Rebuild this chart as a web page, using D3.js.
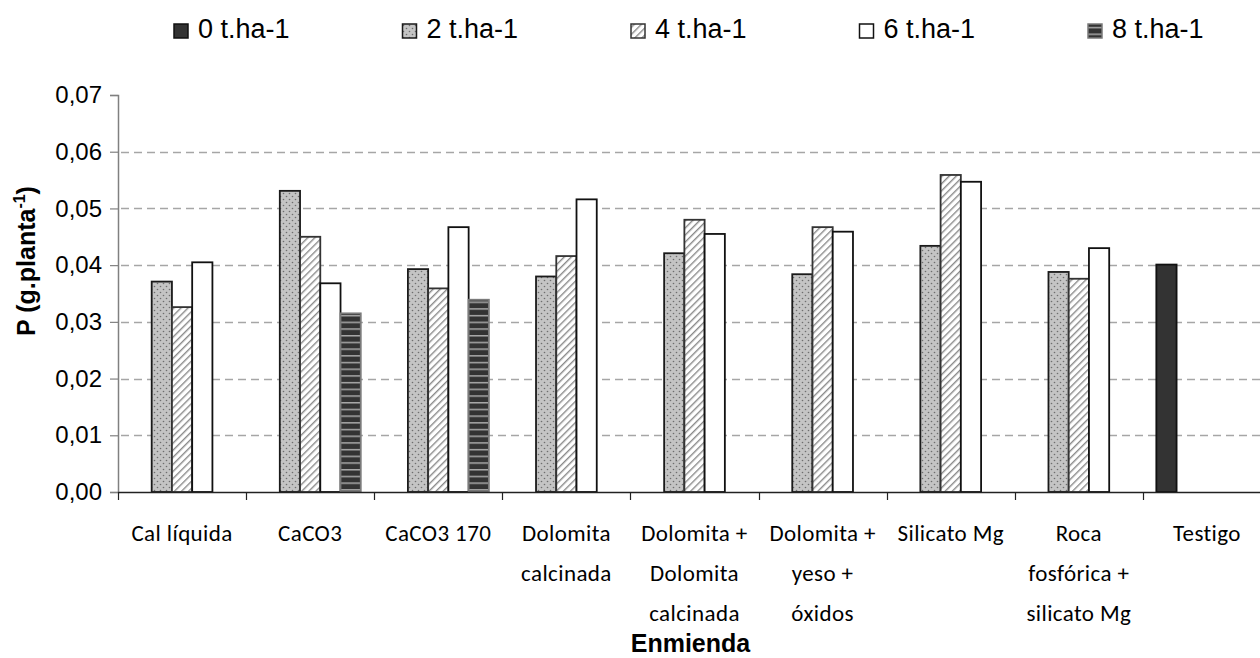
<!DOCTYPE html>
<html>
<head>
<meta charset="utf-8">
<script src="https://cdn.jsdelivr.net/npm/d3@7.9.0/dist/d3.min.js"></script>
<style>
  body { margin: 0; background: #fff; }
  svg { display: block; }
</style>
</head>
<body>
<svg id="chart"></svg>
<script>
// Categories (one entry per x label line)
const categories = ['Cal líquida', 'CaCO3', 'CaCO3 170', 'Dolomita calcinada',
    'Dolomita + Dolomita calcinada', 'Dolomita + yeso + óxidos', 'Silicato Mg',
    'Roca fosfórica + silicato Mg', 'Testigo'];
const categoryLines = [
    ['Cal líquida'], ['CaCO3'], ['CaCO3 170'], ['Dolomita', 'calcinada'],
    ['Dolomita +', 'Dolomita', 'calcinada'], ['Dolomita +', 'yeso +', 'óxidos'],
    ['Silicato Mg'], ['Roca', 'fosfórica +', 'silicato Mg'], ['Testigo']
];

// Series
const seriesNames = ['0 t.ha-1', '2 t.ha-1', '4 t.ha-1', '6 t.ha-1', '8 t.ha-1'];
const dose0 = [null, null, null, null, null, null, null, null, 0.0401];
const dose2 = [0.0371, 0.0531, 0.0393, 0.0380, 0.0421, 0.0384, 0.0434, 0.0388, null];
const dose4 = [0.0326, 0.0450, 0.0359, 0.0416, 0.0480, 0.0467, 0.0559, 0.0376, null];
const dose6 = [0.0405, 0.0368, 0.0467, 0.0516, 0.0455, 0.0459, 0.0547, 0.0430, null];
const dose8 = [null, 0.0315, 0.0339, null, null, null, null, null, null];

// Y ticks
const yTicks = [0, 0.01, 0.02, 0.03, 0.04, 0.05, 0.06, 0.07];

const seriesValues = [dose0, dose2, dose4, dose6, dose8];

// Dimensions
const width = 1260;
const height = 658;
const plot = { left: 118, right: 1271, top: 95, bottom: 492 };

const svg = d3.select('#chart')
    .attr('width', width)
    .attr('height', height)
    .attr('viewBox', `0 0 ${width} ${height}`);

svg.append('rect').attr('width', width).attr('height', height).attr('fill', '#fff');

// Patterns
const defs = svg.append('defs');

const dots = defs.append('pattern')
    .attr('id', 'pat-dots')
    .attr('patternUnits', 'userSpaceOnUse')
    .attr('width', 6).attr('height', 6);
dots.append('rect').attr('width', 6).attr('height', 6).attr('fill', '#c4c4c4');
dots.append('circle').attr('cx', 1.5).attr('cy', 1.5).attr('r', 0.8).attr('fill', '#6e6e6e');
dots.append('circle').attr('cx', 4.5).attr('cy', 4.5).attr('r', 0.8).attr('fill', '#6e6e6e');

const hatch = defs.append('pattern')
    .attr('id', 'pat-hatch')
    .attr('patternUnits', 'userSpaceOnUse')
    .attr('width', 5).attr('height', 5)
    .attr('patternTransform', 'rotate(45)');
hatch.append('rect').attr('width', 5).attr('height', 5).attr('fill', '#fff');
hatch.append('rect').attr('x', 0).attr('width', 1.4).attr('height', 5).attr('fill', '#8a8a8a');

const stripes = defs.append('pattern')
    .attr('id', 'pat-stripes')
    .attr('patternUnits', 'userSpaceOnUse')
    .attr('width', 6).attr('height', 6.7);
stripes.append('rect').attr('width', 6).attr('height', 6.7).attr('fill', '#333');
stripes.append('rect').attr('y', 0).attr('width', 6).attr('height', 1.5).attr('fill', '#a8a8a8');

const fills = ['#333333', 'url(#pat-dots)', 'url(#pat-hatch)', '#ffffff', 'url(#pat-stripes)'];
const strokes = ['#111', '#1a1a1a', '#333', '#111', '#7a7a7a'];

// Scales
const x = d3.scaleBand()
    .domain(categories)
    .range([plot.left, plot.right])
    .padding(0);

const step = x.bandwidth();
const xInner = d3.scaleBand()
    .domain(seriesNames)
    .range([step * 0.105, step * 0.895])
    .padding(0);

const y = d3.scaleLinear()
    .domain([0, 0.07])
    .range([plot.bottom, plot.top]);

// Gridlines
svg.append('g')
    .attr('class', 'gridlines')
    .selectAll('line')
    .data(yTicks.filter((d) => d > 0 && d < 0.07))
    .join('line')
    .attr('x1', plot.left + 3)
    .attr('x2', width)
    .attr('y1', (d) => Math.round(y(d)) + 0.5)
    .attr('y2', (d) => Math.round(y(d)) + 0.5)
    .attr('stroke', '#a6a6a6')
    .attr('stroke-width', 1.3)
    .attr('stroke-dasharray', '8,5');

// Bars
const rows = [];
seriesValues.forEach((vals, si) => {
    vals.forEach((v, ci) => {
        if (v !== null) rows.push({ series: seriesNames[si], si, cat: categories[ci], value: v });
    });
});

svg.append('g')
    .attr('class', 'bars')
    .selectAll('rect')
    .data(rows)
    .join('rect')
    .attr('x', (d) => x(d.cat) + xInner(d.series))
    .attr('y', (d) => y(d.value))
    .attr('width', xInner.bandwidth())
    .attr('height', (d) => y(0) - y(d.value))
    .attr('fill', (d) => fills[d.si])
    .attr('stroke', (d) => strokes[d.si])
    .attr('stroke-width', 1.8);

// Y axis
const yAxis = d3.axisLeft(y)
    .tickValues(yTicks)
    .tickSize(8)
    .tickPadding(8)
    .tickFormat((d) => d3.format('.2f')(d).replace('.', ','));

const yg = svg.append('g')
    .attr('transform', `translate(${plot.left}, 0)`)
    .call(yAxis);
yg.select('.domain').attr('stroke', '#808080').attr('stroke-width', 1.5);
yg.selectAll('.tick line').attr('stroke', '#808080').attr('stroke-width', 1.2);
yg.selectAll('.tick text')
    .attr('font-family', 'Liberation Sans, Arial, sans-serif')
    .attr('font-size', 24)
    .attr('fill', '#000');

// X axis: line, ticks at the band boundaries
const xAxis = d3.axisBottom(x).tickSize(0).tickFormat('');
const xg = svg.append('g')
    .attr('transform', `translate(0, ${plot.bottom})`)
    .call(xAxis);
xg.select('.domain').attr('stroke', '#222').attr('stroke-width', 1.3);

svg.append('g')
    .selectAll('line')
    .data(categories)
    .join('line')
    .attr('x1', (d) => Math.round(x(d)) + 0.5)
    .attr('x2', (d) => Math.round(x(d)) + 0.5)
    .attr('y1', plot.bottom)
    .attr('y2', plot.bottom + 8)
    .attr('stroke', '#222')
    .attr('stroke-width', 1.2);

// X labels
const labels = svg.append('g')
    .attr('font-family', 'Carlito, Calibri, Lato, sans-serif')
    .attr('font-size', 23)
    .attr('letter-spacing', 0.4)
    .attr('fill', '#000')
    .attr('text-anchor', 'middle');

categories.forEach((c, i) => {
    const t = labels.append('text')
        .attr('x', x(c) + step / 2)
        .attr('y', 541);
    categoryLines[i].forEach((line, li) => {
        t.append('tspan')
            .attr('x', x(c) + step / 2)
            .attr('y', 541 + li * 40)
            .text(line);
    });
});

// Axis titles
svg.append('text')
    .attr('x', (plot.left + plot.right) / 2 - 4)
    .attr('y', 652)
    .attr('text-anchor', 'middle')
    .attr('font-family', 'Liberation Sans, Arial, sans-serif')
    .attr('font-weight', 'bold')
    .attr('font-size', 25)
    .text('Enmienda');

const yTitle = svg.append('text')
    .attr('transform', `translate(35, 261) rotate(-90)`)
    .attr('text-anchor', 'middle')
    .attr('font-family', 'Liberation Sans, Arial, sans-serif')
    .attr('font-weight', 'bold')
    .attr('font-size', 25);
yTitle.append('tspan').text('P (g.planta');
yTitle.append('tspan').attr('font-size', 16).attr('dy', -10).text('-1');
yTitle.append('tspan').attr('dy', 10).text(')');

// Legend
const legend = svg.append('g')
    .attr('font-family', 'Liberation Sans, Arial, sans-serif')
    .attr('font-size', 27);

seriesNames.forEach((name, i) => {
    const lx = 174 + i * 228.5;
    legend.append('rect')
        .attr('x', lx)
        .attr('y', 24)
        .attr('width', 14)
        .attr('height', 14)
        .attr('fill', fills[i])
        .attr('stroke', strokes[i])
        .attr('stroke-width', 1.5);
    legend.append('text')
        .attr('x', lx + 24)
        .attr('y', 38)
        .text(name);
});
</script>
</body>
</html>
